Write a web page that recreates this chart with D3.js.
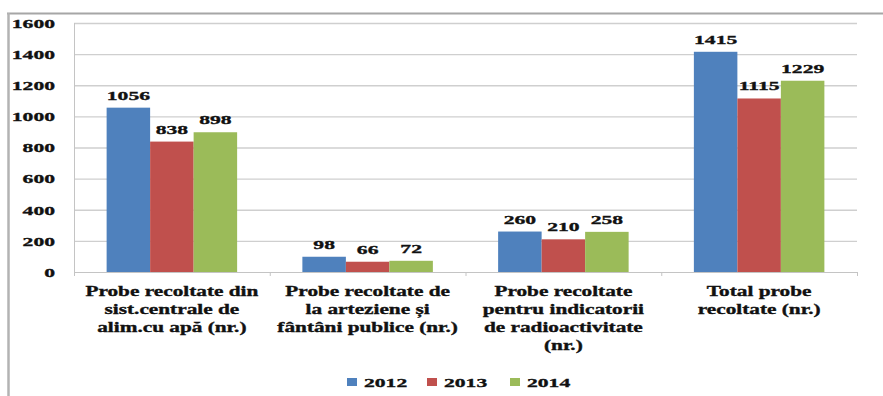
<!DOCTYPE html>
<html>
<head>
<meta charset="utf-8">
<script src="https://cdn.jsdelivr.net/npm/d3@7"></script>
<style>
  html, body { margin: 0; padding: 0; background: #fff; }
</style>
</head>
<body>
<svg id="chart" width="883" height="396"></svg>
<script>
// Sample counts per category and year
const categories = [
  ["Probe recoltate din", "sist.centrale de", "alim.cu apă (nr.)"],
  ["Probe recoltate de", "la arteziene și", "fântâni publice (nr.)"],
  ["Probe recoltate", "pentru indicatorii", "de radioactivitate", "(nr.)"],
  ["Total probe", "recoltate (nr.)"]
];
const years = ["2012", "2013", "2014"];
const values2012 = [1056, 98, 260, 1415];
const values2013 = [838, 66, 210, 1115];
const values2014 = [898, 72, 258, 1229];
const yTicks = [0, 200, 400, 600, 800, 1000, 1200, 1400, 1600];
const colors = ["#4F81BD", "#C0504D", "#9BBB59"];

const series = [values2012, values2013, values2014];
const catKeys = categories.map((c, i) => "c" + i);

const FONT = "'Liberation Serif', 'Times New Roman', Times, 'DejaVu Serif', serif";

const svg = d3.select("#chart");
const plotLeft = 74, plotRight = 857, plotTop = 23, plotBottom = 272;
const stretch = 1.6;

// stretched heavy serif label helper
function label(sel, size) {
  return sel.append("text")
    .attr("font-family", FONT)
    .attr("font-weight", "bold")
    .attr("font-size", size)
    .attr("fill", "#111")
    .attr("stroke", "#111")
    .attr("stroke-width", 0.35);
}

// frame lines
svg.append("line").attr("x1", 7).attr("x2", 883).attr("y1", 13.5).attr("y2", 13.5)
  .attr("stroke", "#a6a6a6").attr("stroke-width", 2);
svg.append("line").attr("x1", 8.5).attr("x2", 8.5).attr("y1", 13).attr("y2", 396)
  .attr("stroke", "#b3b3b3").attr("stroke-width", 2.5);

const y = d3.scaleLinear().domain([0, 1600]).range([plotBottom, plotTop]);
const x0 = d3.scaleBand().domain(catKeys).range([plotLeft, plotRight]).padding(0);
const x1 = d3.scaleBand().domain(years).range([0, x0.bandwidth()]).paddingInner(0).paddingOuter(0.75);

// gridlines
svg.append("g").selectAll("line").data(yTicks.filter(t => t > 0)).join("line")
  .attr("x1", plotLeft).attr("x2", plotRight)
  .attr("y1", d => y(d) + 0.5).attr("y2", d => y(d) + 0.5)
  .attr("stroke", "#cfcfcf").attr("stroke-width", 1.3);

// y axis line
svg.append("line").attr("x1", plotLeft + 0.5).attr("x2", plotLeft + 0.5).attr("y1", plotTop).attr("y2", plotBottom)
  .attr("stroke", "#c4c4c4");

// y tick labels
label(svg.append("g").selectAll("g").data(yTicks).join("g")
  .attr("transform", d => `translate(55,${y(d)}) scale(${stretch},1)`), 13.5)
  .attr("text-anchor", "end").attr("dy", "0.36em")
  .text(d => d);

// bars
const groups = svg.append("g").selectAll("g").data(catKeys).join("g")
  .attr("transform", d => `translate(${x0(d)},0)`);

groups.selectAll("rect").data((d, i) => years.map((yr, j) => ({ yr, j, v: series[j][i] })))
  .join("rect")
  .attr("x", d => x1(d.yr))
  .attr("y", d => y(d.v))
  .attr("width", x1.bandwidth())
  .attr("height", d => y(0) - y(d.v))
  .attr("fill", d => colors[d.j]);

// value labels
label(groups.selectAll("g.val").data((d, i) => years.map((yr, j) => ({ yr, j, v: series[j][i] })))
  .join("g").attr("class", "val")
  .attr("transform", d => `translate(${x1(d.yr) + x1.bandwidth() / 2},${y(d.v) - 8}) scale(${stretch},1)`), 13.5)
  .attr("text-anchor", "middle")
  .text(d => d.v);

// x axis line and ticks
svg.append("line").attr("x1", plotLeft).attr("x2", plotRight).attr("y1", plotBottom + 0.5).attr("y2", plotBottom + 0.5)
  .attr("stroke", "#c4c4c4");
const boundaries = catKeys.map(k => x0(k)).concat([plotRight]);
svg.append("g").selectAll("line").data(boundaries).join("line")
  .attr("x1", d => d + 0.5).attr("x2", d => d + 0.5)
  .attr("y1", plotBottom).attr("y2", plotBottom + 4)
  .attr("stroke", "#c4c4c4");

// category labels
const catLabels = svg.append("g").selectAll("g").data(categories).join("g")
  .attr("transform", (d, i) => `translate(${x0(catKeys[i]) + x0.bandwidth() / 2},0)`);
catLabels.each(function (lines) {
  label(d3.select(this).selectAll("g").data(lines).join("g")
    .attr("transform", (t, k) => `translate(0,${296 + k * 18}) scale(1.52,1)`), 14)
    .attr("text-anchor", "middle")
    .text(t => t);
});

// legend
const legendX = [347, 427, 510];
const legend = svg.append("g").selectAll("g").data(years).join("g")
  .attr("transform", (d, i) => `translate(${legendX[i]},387)`);
legend.append("rect").attr("x", 0).attr("y", -9).attr("width", 10).attr("height", 8)
  .attr("fill", (d, i) => colors[i]);
label(legend.append("g").attr("transform", `translate(17,0) scale(${stretch},1)`), 13.5)
  .text(d => d);
</script>
</body>
</html>
